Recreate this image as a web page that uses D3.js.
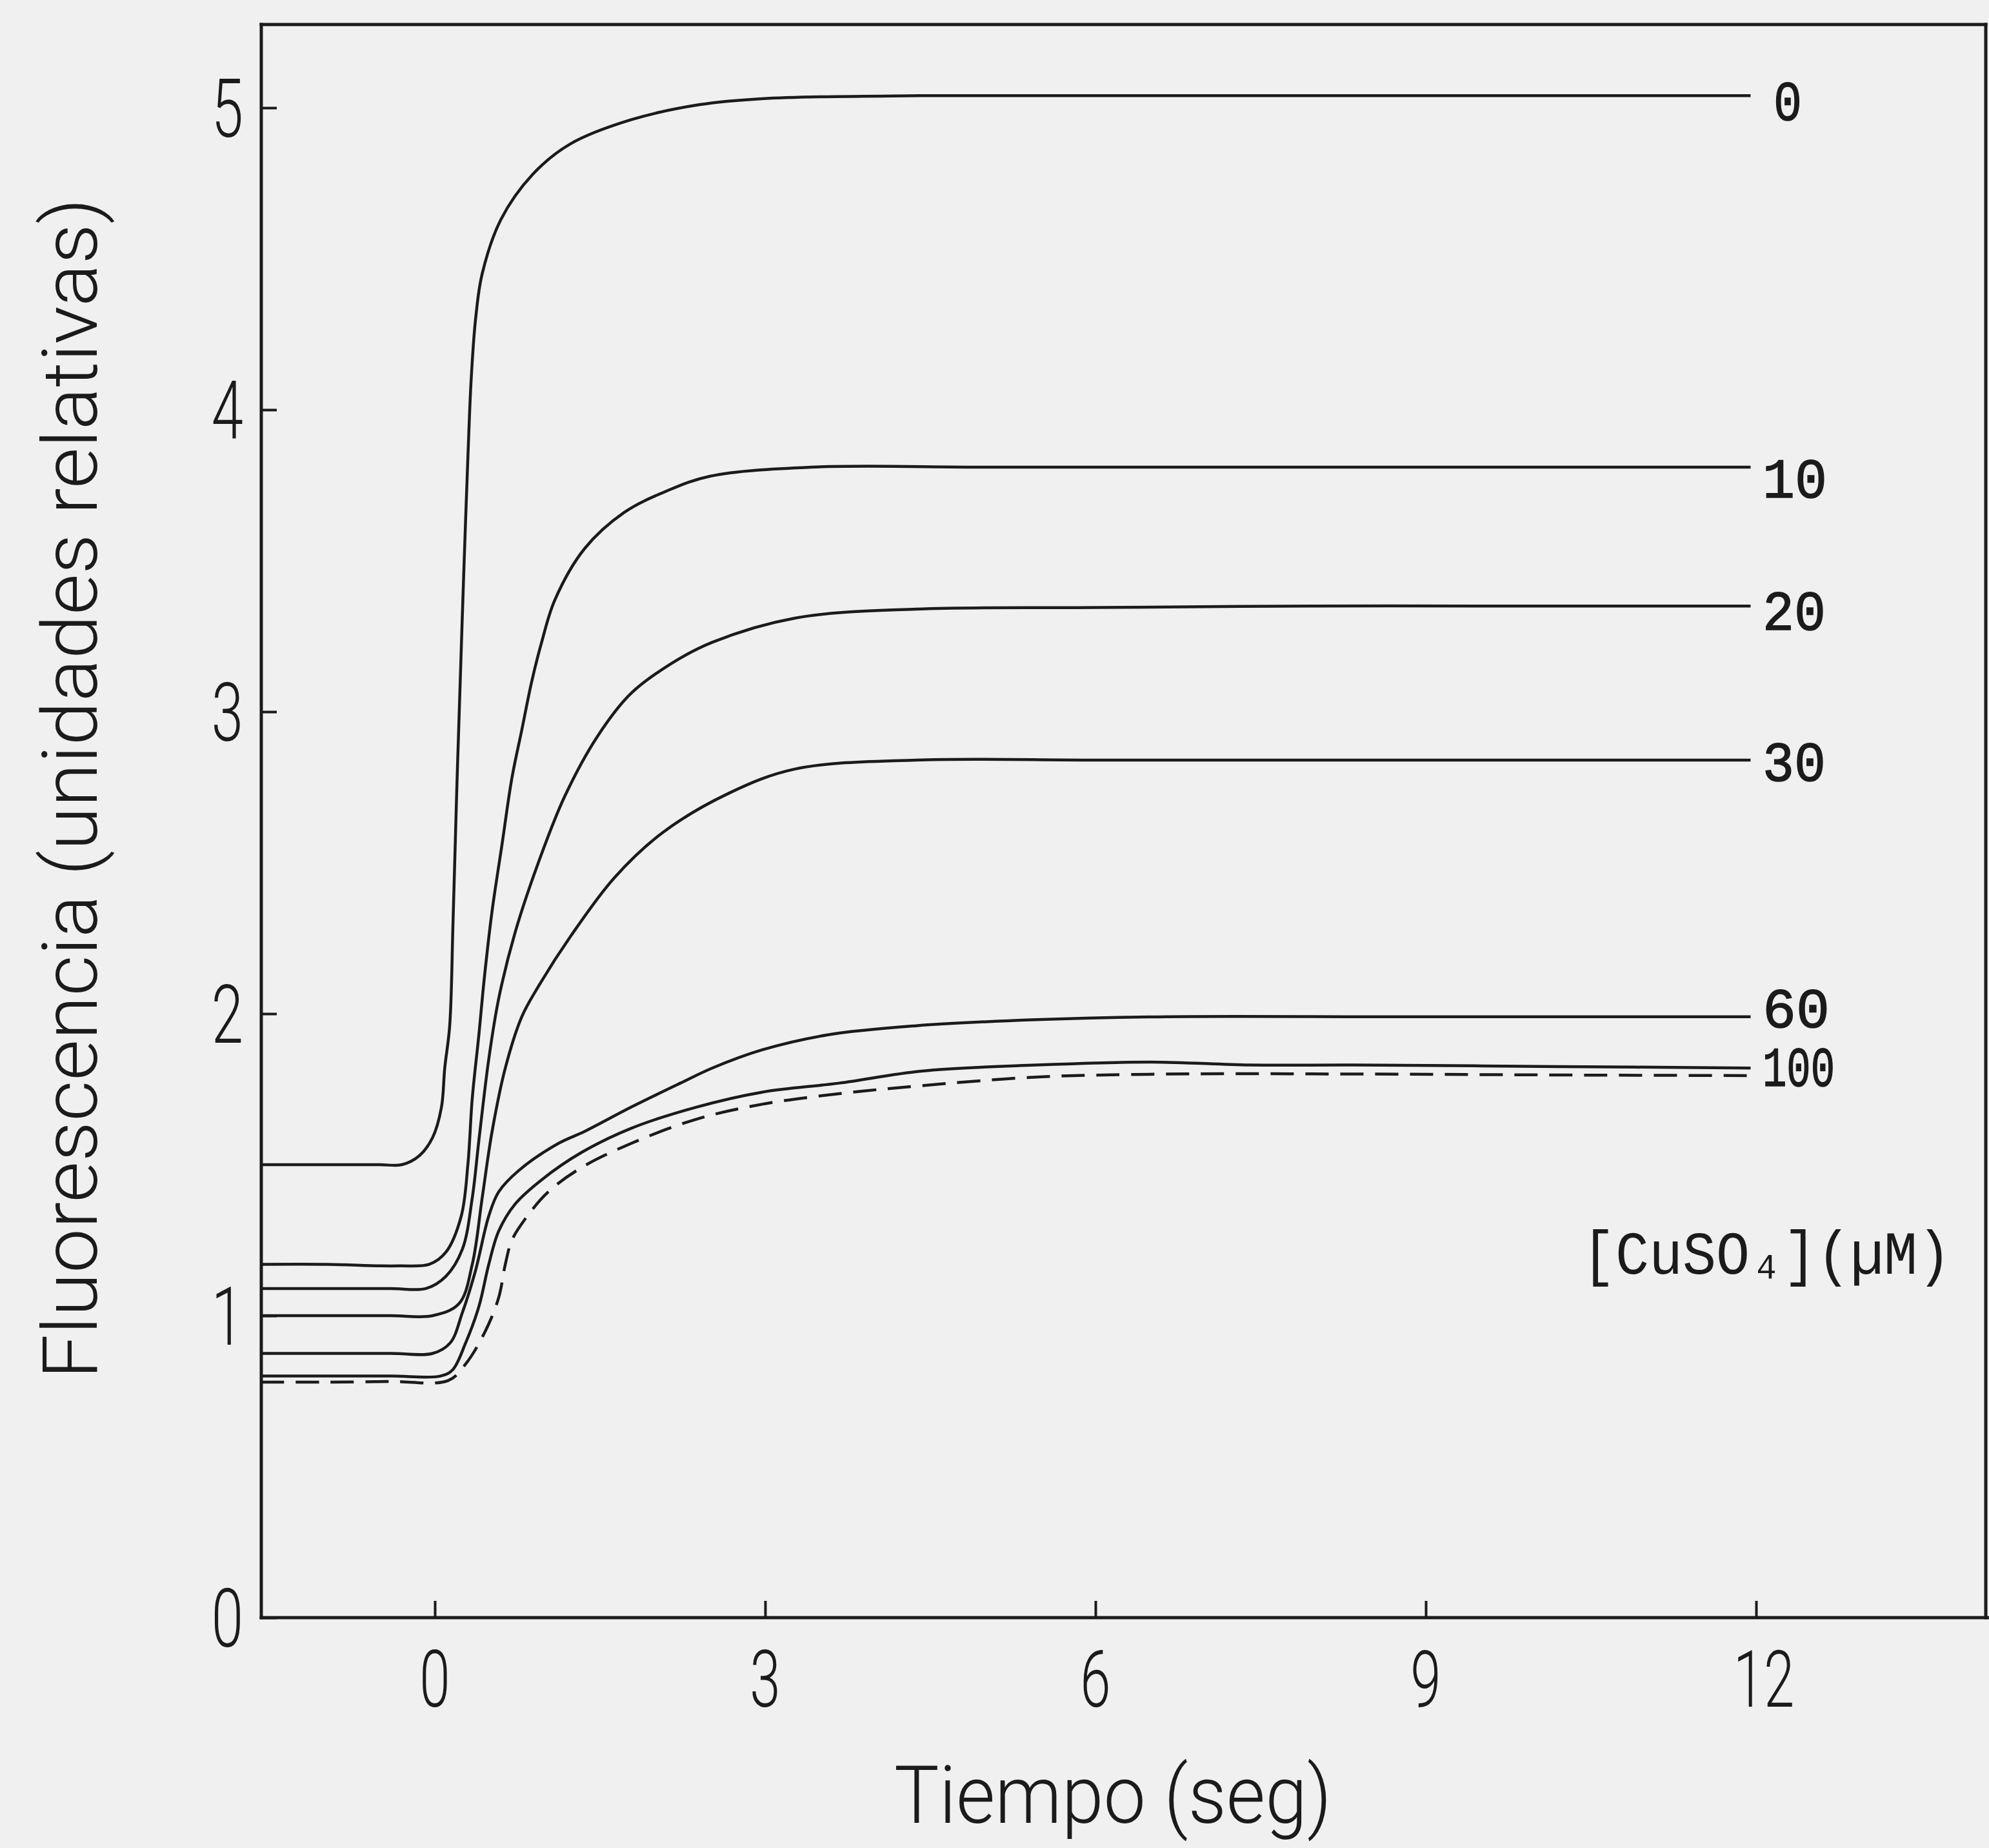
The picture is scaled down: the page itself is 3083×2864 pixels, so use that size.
<!DOCTYPE html>
<html><head><meta charset="utf-8">
<script src="https://cdn.jsdelivr.net/npm/d3@7"></script>
<style>html,body{margin:0;padding:0;background:#f0f0f0;} svg{display:block}</style>
</head><body><svg id="c" width="3083" height="2864"></svg>
<script>
// ---------- data ----------
const xTicks = [0, 3, 6, 9, 12];
const yTicks = [0, 1, 2, 3, 4, 5];
const xTickLabels = ["0", "3", "6", "9", "12"];
const yTickLabels = ["0", "1", "2", "3", "4", "5"];
const concLabels = ["0", "10", "20", "30", "60", "100", ""];
const xTitle = "Tiempo (seg)";
const yTitle = "Fluorescencia (unidades relativas)";
const legendTitle = "[CuSO\u2084](\u00b5M)";

// [tiempo (s), fluorescencia]
const cu0 = [[-1.58,1.50],[-1.0,1.50],[-0.50,1.50],[-0.30,1.50],[-0.14,1.53],[-0.02,1.59],[0.06,1.69],[0.09,1.82],[0.135,1.96],[0.165,2.30],[0.20,2.75],[0.235,3.15],[0.26,3.43],[0.30,3.84],[0.33,4.10],[0.37,4.30],[0.43,4.45],[0.60,4.63],[0.89,4.78],[1.23,4.88],[1.78,4.96],[2.40,5.01],[2.97,5.03],[4.40,5.04],[6.5,5.04],[9.0,5.04],[11.95,5.04]];
const cu10 = [[-1.58,1.17],[-1.0,1.17],[-0.50,1.165],[-0.32,1.165],[-0.05,1.17],[0.10,1.21],[0.24,1.33],[0.30,1.50],[0.34,1.72],[0.40,1.93],[0.45,2.12],[0.52,2.34],[0.61,2.56],[0.70,2.78],[0.79,2.94],[0.88,3.10],[0.97,3.23],[1.09,3.37],[1.36,3.54],[1.72,3.66],[2.10,3.73],[2.50,3.78],[3.42,3.81],[5.0,3.81],[7.0,3.81],[9.5,3.81],[11.95,3.81]];
const cu20 = [[-1.58,1.09],[-1.0,1.09],[-0.40,1.09],[-0.08,1.09],[0.10,1.13],[0.25,1.22],[0.34,1.39],[0.40,1.58],[0.49,1.85],[0.58,2.05],[0.73,2.27],[0.94,2.50],[1.18,2.72],[1.48,2.92],[1.78,3.06],[2.15,3.16],[2.52,3.23],[3.27,3.31],[4.37,3.34],[6.0,3.345],[8.0,3.35],[10.0,3.35],[11.95,3.35]];
const cu30 = [[-1.58,1.00],[-1.0,1.00],[-0.40,1.00],[-0.02,1.00],[0.22,1.04],[0.34,1.17],[0.43,1.39],[0.52,1.61],[0.64,1.82],[0.79,1.99],[0.94,2.09],[1.24,2.26],[1.63,2.45],[2.07,2.60],[2.67,2.73],[3.27,2.81],[4.37,2.84],[6.0,2.84],[8.0,2.84],[10.0,2.84],[11.95,2.84]];
const cu60 = [[-1.58,0.875],[-1.0,0.875],[-0.40,0.875],[-0.02,0.875],[0.14,0.91],[0.25,1.01],[0.37,1.15],[0.49,1.33],[0.58,1.41],[0.76,1.48],[1.12,1.57],[1.36,1.61],[1.78,1.69],[2.23,1.77],[2.52,1.82],[2.97,1.88],[3.57,1.93],[4.37,1.96],[5.46,1.98],[6.65,1.99],[8.5,1.99],[10.2,1.99],[11.95,1.99]];
const cu100 = [[-1.58,0.80],[-1.0,0.80],[-0.40,0.80],[0.05,0.80],[0.16,0.82],[0.28,0.91],[0.40,1.03],[0.49,1.17],[0.58,1.28],[0.73,1.37],[0.97,1.45],[1.33,1.54],[1.78,1.62],[2.37,1.69],[2.97,1.74],[3.67,1.77],[4.42,1.81],[5.46,1.83],[6.51,1.84],[7.40,1.83],[8.35,1.83],[10.2,1.825],[11.95,1.82]];
const cuDashed = [[-1.58,0.78],[-1.0,0.78],[-0.40,0.782],[0.12,0.785],[0.28,0.84],[0.46,0.95],[0.58,1.06],[0.64,1.17],[0.70,1.25],[0.82,1.32],[1.03,1.41],[1.33,1.49],[1.78,1.57],[2.37,1.65],[2.97,1.70],[3.67,1.735],[4.37,1.76],[5.46,1.79],[6.65,1.80],[8.5,1.80],[10.2,1.797],[11.95,1.795]];

const series = [cu0, cu10, cu20, cu30, cu60, cu100, cuDashed];

// ---------- layout / style ----------
const W = 3083, H = 2864;
const frameLeft = 405, frameTop = 38, frameRight = 3078, frameBottom = 2507;
const ink = "#1b1b1b";
const labelNudge = [6, 15, 5, 0, -16, -4, 0];
const dashStyles = [null, null, null, null, null, null, "36,18"];

const svg = d3.select("#c");
svg.append("rect").attr("width", W).attr("height", H).attr("fill", "#f0f0f0");

const x = d3.scaleLinear().domain([0, 12]).range([674, 2722]);
const y = d3.scaleLinear().domain([0, 5]).range([2507, 167]);

// frame
const fr = svg.append("g").attr("stroke", ink).attr("stroke-width", 5).attr("fill", "none").attr("stroke-linecap", "square");
fr.append("line").attr("x1", frameLeft).attr("y1", frameTop).attr("x2", frameLeft).attr("y2", frameBottom);
fr.append("line").attr("x1", frameLeft).attr("y1", frameBottom).attr("x2", W).attr("y2", frameBottom);
fr.append("line").attr("x1", frameLeft).attr("y1", frameTop).attr("x2", frameRight).attr("y2", frameTop);
fr.append("line").attr("x1", frameRight).attr("y1", frameTop).attr("x2", frameRight).attr("y2", frameBottom);

// axes (inward ticks)
const gx = svg.append("g").attr("transform", `translate(0,${frameBottom})`)
  .call(d3.axisBottom(x).tickValues(xTicks).tickSize(-26).tickSizeOuter(0).tickFormat(""));
const gy = svg.append("g").attr("transform", `translate(${frameLeft},0)`)
  .call(d3.axisLeft(y).tickValues(yTicks).tickSize(-24).tickSizeOuter(0).tickFormat(""));
[gx, gy].forEach(g => {
  g.select(".domain").remove();
  g.selectAll(".tick line").attr("stroke", ink).attr("stroke-width", 4);
});

const tickFont = "Roboto, 'Liberation Sans', sans-serif";
// y tick labels
svg.append("g").selectAll("text").data(yTicks).join("text")
  .attr("transform", d => `translate(377,${y(d) + 45}) scale(0.70,1)`)
  .attr("text-anchor", "end")
  .attr("font-family", tickFont).attr("font-weight", 300).attr("font-size", 127)
  .attr("fill", ink)
  .text((d, i) => yTickLabels[i]);
// x tick labels
svg.append("g").selectAll("text").data(xTicks).join("text")
  .attr("transform", d => `translate(${x(d) + (d >= 10 ? 12 : 0)},2645) scale(0.70,1)`)
  .attr("text-anchor", "middle")
  .attr("font-family", tickFont).attr("font-weight", 300).attr("font-size", 122)
  .attr("fill", ink)
  .text((d, i) => xTickLabels[i]);

// titles
svg.append("text")
  .attr("transform", `translate(150,1222) rotate(-90)`)
  .attr("text-anchor", "middle")
  .attr("font-family", tickFont).attr("font-weight", 300).attr("font-size", 118)
  .attr("textLength", 1830).attr("lengthAdjust", "spacingAndGlyphs")
  .attr("fill", ink).text(yTitle);
svg.append("text")
  .attr("x", 1725).attr("y", 2825)
  .attr("text-anchor", "middle")
  .attr("font-family", tickFont).attr("font-weight", 300).attr("font-size", 124)
  .attr("textLength", 678).attr("lengthAdjust", "spacingAndGlyphs")
  .attr("fill", ink).text(xTitle);

// curves
const line = d3.line().x(d => x(d[0])).y(d => y(d[1])).curve(d3.curveCatmullRom.alpha(0.5));
svg.append("g").selectAll("path").data(series).join("path")
  .attr("d", line)
  .attr("fill", "none")
  .attr("stroke", ink)
  .attr("stroke-width", 4.5)
  .attr("stroke-linejoin", "round")
  .attr("stroke-dasharray", (d, i) => dashStyles[i]);

// curve labels
const labFont = "'Liberation Mono', 'DejaVu Sans Mono', monospace";
const labWidths = { "0": 44, "10": 100, "20": 98, "30": 98, "60": 104, "100": 112 };
svg.append("g").selectAll("text").data(series.map((s, i) => ({ s, i })).filter(o => concLabels[o.i] !== ""))
  .join("text")
  .attr("x", o => x(12) + (concLabels[o.i] === "0" ? 27 : 10))
  .attr("y", o => y(o.s[o.s.length - 1][1]) + labelNudge[o.i] + 32)
  .attr("font-family", labFont).attr("font-size", 88).attr("font-weight", 400)
  .attr("stroke", ink).attr("stroke-width", 1.5)
  .attr("textLength", o => labWidths[concLabels[o.i]]).attr("lengthAdjust", "spacingAndGlyphs")
  .attr("fill", ink)
  .text(o => concLabels[o.i]);

// legend title
svg.append("text")
  .attr("x", 2452).attr("y", 1974)
  .attr("font-family", labFont).attr("font-size", 94)
  .attr("textLength", 572).attr("lengthAdjust", "spacingAndGlyphs")
  .attr("fill", ink)
  .text(legendTitle);
</script></body></html>
